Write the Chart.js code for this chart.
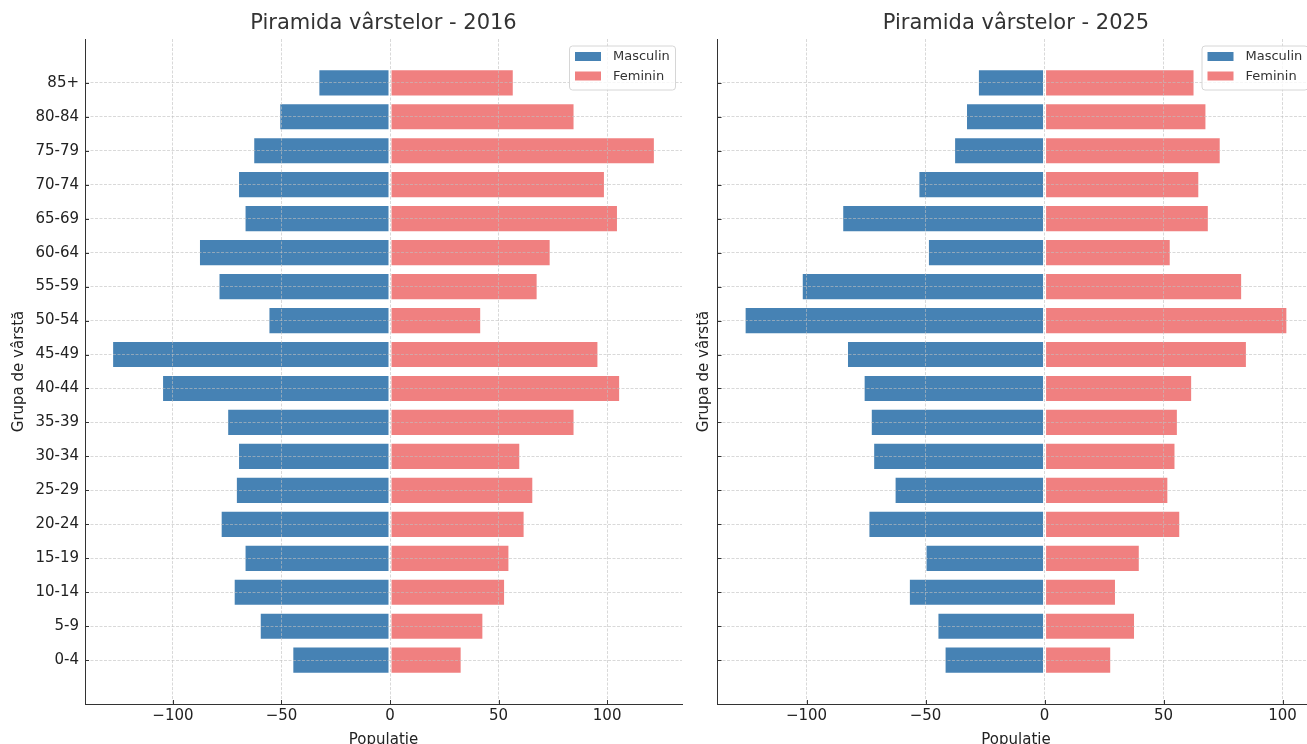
<!DOCTYPE html>
<html>
<head>
<meta charset="utf-8">
<script src="https://cdn.jsdelivr.net/npm/chart.js@4.4.1/dist/chart.umd.min.js"></script>
<style>
html,body{margin:0;padding:0;background:#fff;overflow:hidden;width:1307px;height:744px;}
#wrap{position:relative;width:1307px;height:744px;overflow:hidden;background:#fff;}
.box{position:absolute;top:0;height:770px;}
#b1{left:0;width:700px;}
#b2{left:690px;width:650px;}
canvas{display:block;}
</style>
</head>
<body>
<div id="wrap">
  <div class="box" id="b1"><canvas id="c1"></canvas></div>
  <div class="box" id="b2"><canvas id="c2"></canvas></div>
</div>
<script>
// ---- data (bottom to top) ----
const ageGroups = ['0-4','5-9','10-14','15-19','20-24','25-29','30-34','35-39','40-44','45-49','50-54','55-59','60-64','65-69','70-74','75-79','80-84','85+'];
const male2016   = [-45,-60,-72,-67,-78,-71,-70,-75,-105,-128,-56,-79,-88,-67,-70,-63,-51,-33];
const female2016 = [33,43,53,55,62,66,60,85,106,96,42,68,74,105,99,122,85,57];
const male2025   = [-42,-45,-57,-50,-74,-63,-72,-73,-76,-83,-126,-102,-49,-85,-53,-38,-33,-28];
const female2025 = [28,38,30,40,57,52,55,56,62,85,102,83,53,69,65,74,68,63];
const xTickValues = [-100,-50,0,50,100];
const seriesLabels = ['Masculin','Feminin'];
const seriesColors = ['#4682B4','#F08080'];
const titles = ['Piramida vârstelor - 2016','Piramida vârstelor - 2025'];
const xAxisTitle = 'Populatie';
const yAxisTitle = 'Grupa de vârstă';

Chart.defaults.font.family = 'DejaVu Sans';
Chart.defaults.animation = false;

const FONT = 'DejaVu Sans';
const gridColor = 'rgba(192,192,192,0.6)';
const spineColor = '#333333';

const innerTicks = {
  id: 'innerTicks',
  afterDraw(chart) {
    const ctx = chart.ctx, ca = chart.chartArea, xs = chart.scales.x, ys = chart.scales.y;
    ctx.save();
    ctx.strokeStyle = spineColor;
    ctx.lineWidth = 1;
    xs.ticks.forEach((t, i) => {
      const px = Math.round(xs.getPixelForTick(i)) + 0.5;
      ctx.beginPath(); ctx.moveTo(px, ca.bottom); ctx.lineTo(px, ca.bottom - 4); ctx.stroke();
    });
    ys.ticks.forEach((t, i) => {
      const py = Math.round(ys.getPixelForTick(i)) + 0.5;
      ctx.beginPath(); ctx.moveTo(ca.left, py); ctx.lineTo(ca.left + 4, py); ctx.stroke();
    });
    ctx.restore();
  }
};

const boxLegend = {
  id: 'boxLegend',
  afterDraw(chart) {
    const ctx = chart.ctx, ca = chart.chartArea;
    const w = 106, h = 44;
    const left = ca.right - 7 - w, top = ca.top + 6.5;
    ctx.save();
    ctx.beginPath();
    if (ctx.roundRect) ctx.roundRect(left + 0.5, top + 0.5, w, h, 3); else ctx.rect(left + 0.5, top + 0.5, w, h);
    ctx.fillStyle = 'rgba(255,255,255,0.8)';
    ctx.fill();
    ctx.strokeStyle = '#d6d6d6';
    ctx.lineWidth = 1;
    ctx.stroke();
    ctx.font = '13px "' + FONT + '"';
    ctx.textBaseline = 'middle';
    ctx.textAlign = 'left';
    chart.data.datasets.forEach((ds, i) => {
      const rowY = top + 11 + i * 19.5;
      ctx.fillStyle = ds.backgroundColor;
      ctx.fillRect(left + 6, rowY - 4.5, 26, 9);
      ctx.fillStyle = '#333';
      ctx.fillText(ds.label, left + 44, rowY + 0.5);
    });
    ctx.restore();
  }
};

function makeChart(id, title, male, female, cfg) {
  const all = male.concat(female);
  const lo = Math.min(...all), hi = Math.max(...all);
  const span = hi - lo;
  const xMin = lo - 0.05 * span, xMax = hi + 0.05 * span;
  const n = ageGroups.length;
  const yPad = 0.05 * ((n - 1) + 0.8);
  const mk = (vals) => vals.map((v, i) => ({x: v, y: i}));
  return new Chart(document.getElementById(id), {
    type: 'bar',
    data: {
      datasets: [
        {label: seriesLabels[0], data: mk(male), backgroundColor: seriesColors[0]},
        {label: seriesLabels[1], data: mk(female), backgroundColor: seriesColors[1]}
      ]
    },
    options: {
      indexAxis: 'y',
      responsive: true,
      maintainAspectRatio: false,
      devicePixelRatio: 1,
      animation: false,
      datasets: {
        bar: {
          grouped: false,
          categoryPercentage: 1,
          barPercentage: 0.8,
          borderColor: 'rgba(255,255,255,0.6)',
          borderWidth: 1,
          borderSkipped: false
        }
      },
      layout: {padding: {left: 0, right: cfg.padRight, top: 0, bottom: 0}},
      plugins: {
        legend: {display: false},
        tooltip: {enabled: false},
        title: {
          display: true, text: title, fullSize: false,
          font: {family: FONT, size: 21, weight: 'normal'},
          color: '#333', padding: {top: 11.4, bottom: 2.4}
        }
      },
      scales: {
        x: {
          type: 'linear', min: xMin, max: xMax, offset: false,
          afterBuildTicks: s => { s.ticks = xTickValues.map(v => ({value: v})); },
          ticks: {
            callback: v => (v < 0 ? '\u2212' + Math.abs(v) : String(v)),
            font: {family: FONT, size: 15}, color: '#222', padding: 3,
            maxRotation: 0, autoSkip: false, z: 2
          },
          grid: {color: gridColor, lineWidth: 1, drawTicks: false, offset: false, z: 1},
          border: {display: true, color: spineColor, width: 1, dash: [3, 1.5], z: 2},
          title: {display: true, text: xAxisTitle, font: {family: FONT, size: 15}, color: '#222', padding: {top: 0, bottom: 21}},
          afterFit: s => { s.height = 66; }
        },
        y: {
          type: 'linear', min: -0.4 - yPad, max: (n - 1) + 0.4 + yPad, offset: false,
          afterBuildTicks: s => { s.ticks = ageGroups.map((g, i) => ({value: i})); },
          ticks: {
            display: cfg.showLabels,
            callback: v => ageGroups[v],
            font: {family: FONT, size: 15}, color: '#222', padding: 6, autoSkip: false, z: 2
          },
          grid: {color: gridColor, lineWidth: 1, drawTicks: false, offset: false, z: 1},
          border: {display: true, color: spineColor, width: 1, dash: [3, 1.5], z: 2},
          title: {display: true, text: yAxisTitle, font: {family: FONT, size: 15}, color: '#222', padding: {top: cfg.yTitlePad, bottom: 0}},
          afterFit: s => { s.width = cfg.yWidth; }
        }
      }
    },
    plugins: [innerTicks, boxLegend]
  });
}

makeChart('c1', titles[0], male2016, female2016, {padRight: 18, yWidth: 85, showLabels: true, yTitlePad: 10});
makeChart('c2', titles[1], male2025, female2025, {padRight: 25.5, yWidth: 27.5, showLabels: false, yTitlePad: 4.8});
</script>
</body>
</html>
